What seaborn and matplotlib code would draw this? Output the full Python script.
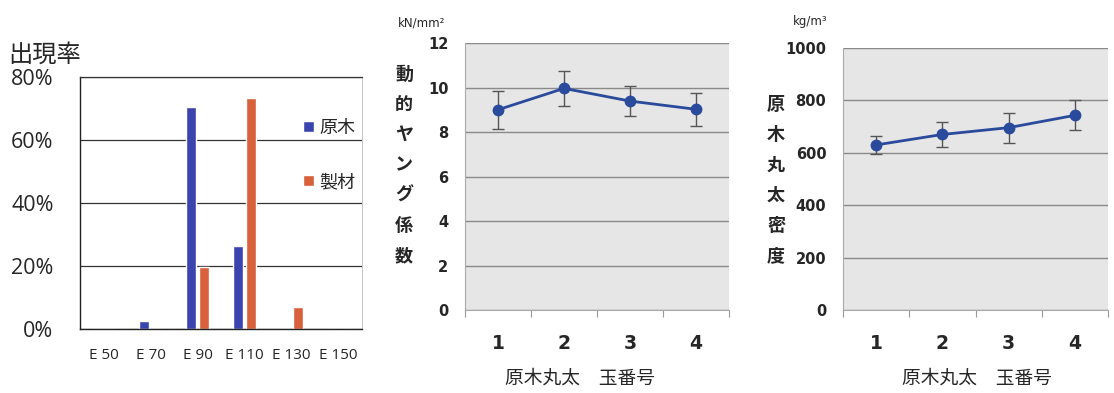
import numpy as np
import pandas as pd
import seaborn as sns
import matplotlib.pyplot as plt
from matplotlib.ticker import FuncFormatter, FixedLocator

# left: grade distribution (%)
grades = ['E 50', 'E 70', 'E 90', 'E 110', 'E 130', 'E 150']
genboku = [0, 2.6, 70.6, 26.3, 0, 0]
seizai = [0, 0, 19.8, 73.2, 7.1, 0]

# middle / right: by log position
positions = ['1', '2', '3', '4']
young_mean = [9.0, 9.96, 9.39, 9.02]
young_sd = [0.85, 0.79, 0.68, 0.74]
density_mean = [630, 670, 696, 743]
density_sd = [34, 48, 57, 57]

W, H = 1114, 393
CJK = ['Noto Sans CJK JP', 'DejaVu Sans']
BLUE = '#3b44ad'
ORANGE = '#d8603a'
LINE = '#2a4a9c'
MARK = '#2f3c98'


def px_axes(fig, l, t, r, b):
    return fig.add_axes([l / W, 1 - b / H, (r - l) / W, (b - t) / H])


def main():
    sns.set_style('white')
    plt.rcParams['font.family'] = CJK
    fig = plt.figure(figsize=(W / 100, H / 100), dpi=100)

    # ---- left bar chart ----
    ax1 = px_axes(fig, 80, 77, 362, 329)
    df = pd.DataFrame({
        'grade': grades * 2,
        'value': genboku + seizai,
        'kind': ['原木'] * len(grades) + ['製材'] * len(grades),
    })
    sns.barplot(data=df, x='grade', y='value', hue='kind',
                palette=[BLUE, ORANGE], width=0.55, gap=0.25,
                saturation=1, ax=ax1)
    ax1.set_ylim(0, 80)
    ax1.set_yticks([0, 20, 40, 60, 80])
    ax1.yaxis.set_major_formatter(FuncFormatter(lambda v, p: f'{v:.0f}%'))
    ax1.grid(axis='y', color='#333333', linewidth=0.9)
    ax1.set_axisbelow(True)
    ax1.set_xlabel('')
    ax1.set_ylabel('')
    ax1.spines['right'].set_color('#bbbbbb')
    ax1.spines['right'].set_linewidth(0.6)
    ax1.spines['top'].set_color('#333333')
    ax1.spines['top'].set_linewidth(0.9)
    for s in ['left', 'bottom']:
        ax1.spines[s].set_color('#222222')
        ax1.spines[s].set_linewidth(1.0)
    ax1.tick_params(axis='y', length=0, pad=19, labelsize=15.5)
    ax1.tick_params(axis='x', length=0, pad=14, labelsize=11)
    for lab in ax1.get_yticklabels() + ax1.get_xticklabels():
        lab.set_family(['Open Sans', 'DejaVu Sans'])
    ax1.legend(loc='upper left', bbox_to_anchor=(0.76, 0.87), frameon=False,
               fontsize=13, labelspacing=2.0, handlelength=0.6,
               handleheight=0.6, handletextpad=0.3, borderpad=0)
    fig.text(8 / W, 1 - 55 / H, '出現率', fontsize=17.5, ha='left', va='center')

    # ---- middle & right point charts ----
    panels = [
        (465, 43, 729, 310, young_mean, young_sd, (0, 12), np.arange(0, 13, 2),
         '動的ヤング係数', 404, 165, 'kN/mm²', 422, 23, 580),
        (843, 48, 1108, 310, density_mean, density_sd, (0, 1000),
         np.arange(0, 1001, 200), '原木丸太密度', 776, 180, 'kg/m³', 810, 22, 977),
    ]
    for (l, t, r, b, mean, sd, ylim, yticks, ylab, ylx, yly,
         unit, ux, uy, xlx) in panels:
        ax = px_axes(fig, l, t, r, b)
        ax.set_facecolor('#e6e6e6')
        dfp = pd.DataFrame({'pos': positions, 'val': mean})
        sns.pointplot(data=dfp, x='pos', y='val', errorbar=None, color=LINE,
                      markers='o', markersize=7, linewidth=2.0, ax=ax)
        for c in ax.collections:
            c.set_facecolor(MARK)
            c.set_edgecolor(MARK)
        ax.errorbar(range(len(positions)), mean, yerr=sd, fmt='none',
                    ecolor='#555555', elinewidth=1.0, capsize=4, capthick=1.0,
                    zorder=1)
        ax.set_xlim(-0.5, len(positions) - 0.5)
        ax.set_ylim(*ylim)
        ax.set_yticks(yticks)
        ax.grid(axis='y', color='#8a8a8a', linewidth=1.0)
        ax.set_axisbelow(True)
        ax.xaxis.set_minor_locator(FixedLocator(np.arange(-0.5, len(positions), 1.0)))
        ax.tick_params(axis='x', which='major', length=0, pad=17, labelsize=13.5)
        ax.tick_params(axis='x', which='minor', length=5, width=0.8,
                       color='#999999', direction='out', bottom=True)
        ax.tick_params(axis='y', length=0, pad=12, labelsize=10.5)
        for lab in ax.get_xticklabels() + ax.get_yticklabels():
            lab.set_family('DejaVu Sans')
            lab.set_fontweight('bold')
        for s in ['top', 'right']:
            ax.spines[s].set_visible(False)
        for s in ['left', 'bottom']:
            ax.spines[s].set_color('#aaaaaa')
            ax.spines[s].set_linewidth(0.8)
        ax.set_xlabel('')
        ax.set_ylabel('')
        fig.text(ylx / W, 1 - yly / H, '\n'.join(ylab), fontsize=13,
                 fontweight='bold', ha='center', va='center', linespacing=1.75)
        fig.text(ux / W, 1 - uy / H, unit, fontsize=8.5, ha='center',
                 va='center', family=['DejaVu Sans'])
        fig.text(xlx / W, 1 - 378 / H, '原木丸太　玉番号', fontsize=13.5,
                 ha='center', va='center')

    plt.savefig('out.png', dpi=100)


if __name__ == '__main__':
    main()
